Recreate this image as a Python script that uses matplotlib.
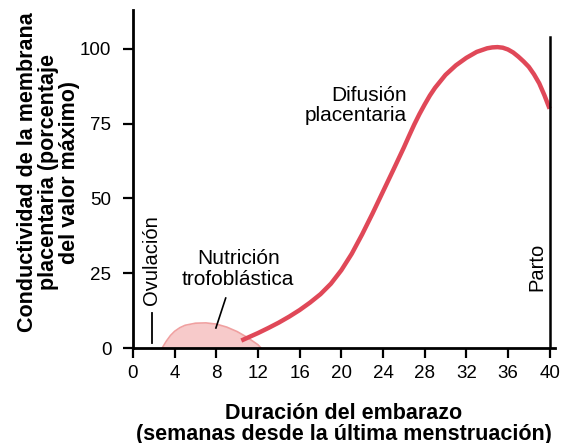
import matplotlib.pyplot as plt

plt.rcParams['font.family'] = ['Liberation Sans', 'DejaVu Sans']

# placental diffusion curve (weeks, % of max)
weeks_dif = [10.4, 12, 13, 14, 15, 16, 17, 18, 19, 20, 21, 22, 23, 24, 25, 26,
             26.5, 27, 27.5, 28, 28.5, 29, 30, 31, 32, 33, 34, 34.5, 35, 35.5,
             36, 36.5, 37, 37.5, 38, 38.5, 39, 39.5, 40]
cond_dif = [2.5, 5, 6.7, 8.5, 10.5, 12.7, 15.2, 18, 21.5, 26, 31.5, 38, 45,
            52.3, 59.6, 67, 70.9, 74.7, 78.2, 81.4, 84.4, 87, 91.3, 94.5, 97,
            99, 100.2, 100.5, 100.6, 100.4, 99.8, 98.8, 97.4, 95.8, 94, 91.5,
            88.5, 84.5, 80]

# trophoblastic nutrition area
weeks_tro = [2.8, 3.2, 3.6, 4, 4.5, 5, 6, 7, 8, 9, 10, 11, 12, 12.3]
cond_tro = [0, 2.3, 4.2, 5.6, 6.8, 7.6, 8.3, 8.4, 8.0, 7.0, 5.5, 3.5, 1.1, 0]

xticks = [0, 4, 8, 12, 16, 20, 24, 28, 32, 36, 40]
yticks = [0, 25, 50, 75, 100]

fig = plt.figure(figsize=(5.72, 4.43), dpi=100)
ax = fig.add_axes([0.2325, 0.2144, 0.7375, 0.763])

ax.fill_between(weeks_tro, cond_tro, 0, color='#f7caca', lw=0)
ax.plot(weeks_tro, cond_tro, color='#f0a0a0', lw=1.2)
ax.plot(weeks_dif, cond_dif, color='#e04858', lw=3.2, solid_capstyle='butt')

# parto line
ax.plot([40, 40], [0, 104], color='black', lw=1.8)
ax.text(38.8, 27, 'Parto', rotation=90, ha='center', va='center', fontsize=14.5)

# ovulation marker
ax.plot([1.8, 1.8], [1.7, 11.7], color='black', lw=1.3)
ax.text(1.8, 29.5, 'Ovulación', rotation=90, ha='center', va='center', fontsize=14.5)

ax.text(10.1, 26.5, 'Nutrición\ntrofoblástica', ha='center', va='center',
        fontsize=15, linespacing=1.1)
ax.plot([8.9, 7.96], [16.7, 6.7], color='black', lw=1.2)

ax.text(26.3, 81, 'Difusión\nplacentaria', ha='right', va='center',
        fontsize=15, linespacing=1.1)

ax.set_xlim(0, 40.5)
ax.set_ylim(0, 113)
ax.set_xticks(xticks)
ax.set_yticks(yticks)
ax.tick_params(direction='out', length=7, width=1.6, labelsize=13.5, pad=5)
ax.tick_params(axis='y', pad=8.5)
for s in ['top', 'right']:
    ax.spines[s].set_visible(False)
for s in ['left', 'bottom']:
    ax.spines[s].set_linewidth(2)

ax.set_xlabel('Duración del embarazo\n(semanas desde la última menstruación)',
              fontsize=15.5, fontweight='bold', linespacing=1.0, labelpad=15)
ax.set_ylabel('Conductividad de la membrana\nplacentaria (porcentaje\ndel valor máximo)',
              fontsize=15.5, fontweight='bold', linespacing=1.0)
ax.yaxis.set_label_coords(-0.126, 0.52)

fig.savefig('out.png', dpi=100)
